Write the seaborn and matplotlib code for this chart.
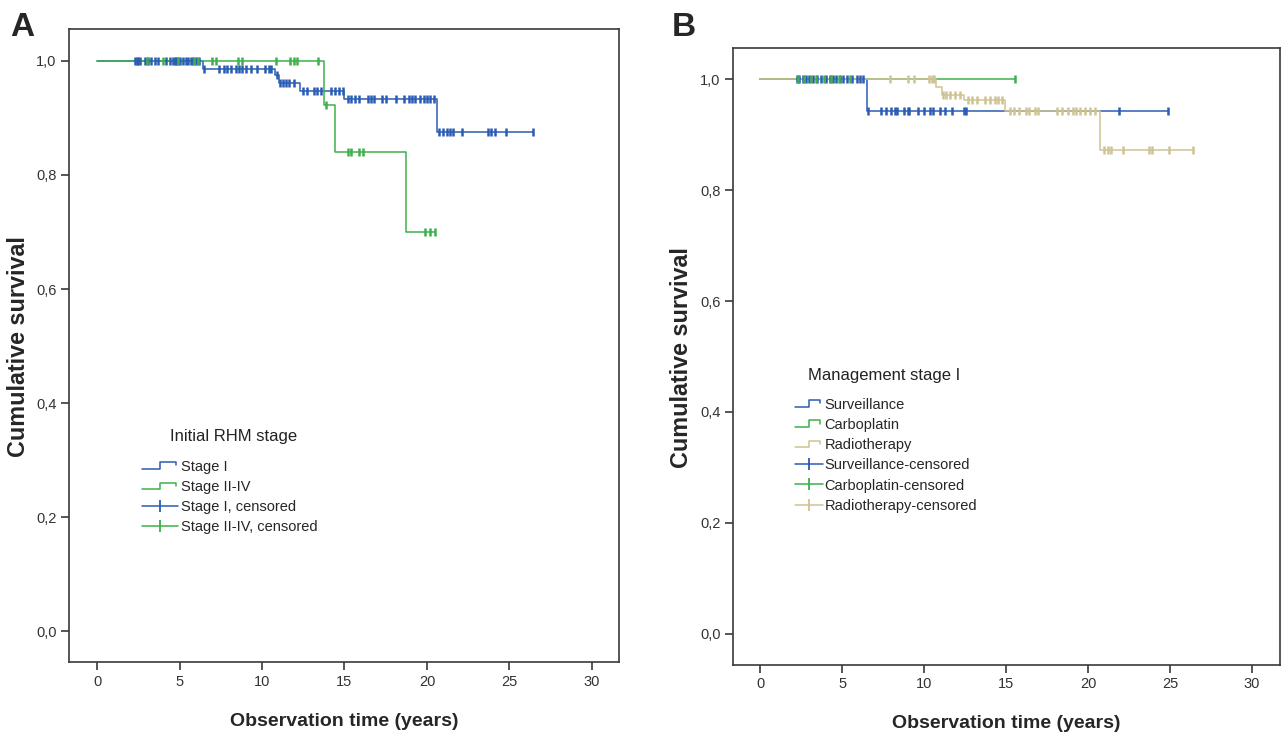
import numpy as np
import pandas as pd
import seaborn as sns
import matplotlib
matplotlib.use("Agg")
import matplotlib.pyplot as plt
from matplotlib.lines import Line2D
from matplotlib.legend_handler import HandlerBase

# Panel A: initial RHM stage
stage1_events = [6.4, 10.8, 11.0, 12.3, 15.0, 20.6]
stage1_surv = [0.986, 0.975, 0.961, 0.948, 0.933, 0.875]
stage1_censored = [2.3, 2.4, 2.5, 2.6, 2.9, 3.1, 3.3, 3.5, 3.7, 4.2, 4.4, 4.6, 4.7,
                   4.8, 4.9, 5.0, 5.2, 5.4, 5.5, 5.7, 5.8, 6.0, 6.2,
                   6.5, 7.4, 7.7, 7.9, 8.15, 8.4, 8.6, 8.8, 9.0, 9.35, 9.7, 10.2, 10.45, 10.55,
                   10.9, 11.1, 11.3, 11.45, 11.65, 11.95,
                   12.5, 12.7, 13.15, 13.35, 13.6, 14.2, 14.45, 14.65, 14.9,
                   15.2, 15.4, 15.65, 15.85, 16.4, 16.6, 16.8, 17.3, 17.5, 18.1, 18.6,
                   18.9, 19.1, 19.3, 19.6, 19.8, 20.0, 20.2, 20.4,
                   20.75, 21.0, 21.2, 21.4, 21.6, 22.1, 23.7, 23.9, 24.1, 24.8, 26.4]
stage24_events = [13.75, 14.4, 18.75]
stage24_surv = [0.923, 0.840, 0.700]
stage24_censored = [3.0, 4.0, 4.9, 5.9, 6.1, 6.95, 7.2, 8.55, 8.8, 10.85, 11.7, 11.95,
                    12.15, 13.4, 13.85, 15.2, 15.4, 15.85, 16.1, 19.9, 20.2, 20.5]

# Panel B: management of stage I
surv_events = [6.55]
surv_surv = [0.943]
surv_censored = [2.25, 2.4, 2.6, 2.8, 3.0, 3.2, 3.5, 3.7, 4.05, 4.25, 4.45, 4.65, 4.85,
                 5.05, 5.3, 5.6, 5.9, 6.1, 6.25,
                 6.6, 7.4, 7.7, 8.0, 8.2, 8.35, 8.8, 9.0, 9.1, 9.6, 10.0, 10.35, 10.55,
                 11.0, 11.3, 11.7, 12.45, 12.55, 21.9, 24.9]
carbo_events = []
carbo_surv = []
carbo_censored = [2.3, 2.7, 3.1, 3.4, 3.9, 4.3, 4.8, 5.5, 15.55]
radio_events = [10.75, 11.1, 12.45, 14.95, 20.75]
radio_surv = [0.985, 0.971, 0.962, 0.943, 0.873]
radio_censored = [7.9, 9.05, 9.4, 10.3, 10.5, 10.6,
                  11.15, 11.35, 11.55, 11.9, 12.2,
                  12.65, 12.95, 13.25, 13.7, 14.0, 14.3, 14.5, 14.75,
                  15.25, 15.5, 15.8, 16.2, 16.4, 16.75, 16.95, 18.1, 18.4, 18.75, 19.05,
                  19.25, 19.5, 19.8, 20.1, 20.4,
                  20.95, 21.2, 21.4, 22.1, 23.7, 23.9, 24.95, 26.4]

BLUE = "#2b5cb4"
GREEN = "#3db04a"
TAN = "#cfc293"
FRAME = "#3a3a3a"


def km_frame(events, surv, censored):
    # step curve from time 0 to the last observation
    end = max(censored + events)
    t = [0.0] + list(events) + [end]
    s = [1.0] + list(surv) + [surv[-1] if surv else 1.0]
    return pd.DataFrame({"time": t, "survival": s})


def censor_frame(events, surv, censored):
    levels = np.array([1.0] + list(surv))
    idx = np.searchsorted(np.array(events), np.array(censored), side="right")
    return pd.DataFrame({"time": censored, "survival": levels[idx]})


class StepHandler(HandlerBase):
    def create_artists(self, legend, orig_handle, xdescent, ydescent,
                       width, height, fontsize, trans):
        x0, y0 = -xdescent, -ydescent
        xs = [x0, x0 + 0.5 * width, x0 + 0.5 * width, x0 + 0.92 * width, x0 + 0.92 * width]
        ys = [y0 + 0.2 * height, y0 + 0.2 * height, y0 + 0.85 * height,
              y0 + 0.85 * height, y0 + 0.55 * height]
        line = Line2D(xs, ys, color=orig_handle.get_color(), lw=1.1)
        line.set_transform(trans)
        return [line]


sns.set_style("white")
plt.rcParams["font.family"] = ["Liberation Sans", "DejaVu Sans"]

fig = plt.figure(figsize=(12.82, 7.34), dpi=100)
W, H = 1282, 734


def add_axes(x0, y0, x1, y1):
    return fig.add_axes([x0 / W, 1 - y1 / H, (x1 - x0) / W, (y1 - y0) / H])


axA = add_axes(69, 29, 619, 662)
axB = add_axes(733, 48, 1280, 665)


def style_axes(ax, xlim, ylim):
    ax.set_xlim(*xlim)
    ax.set_ylim(*ylim)
    ax.set_xticks(np.arange(0, 31, 5))
    ax.set_yticks(np.arange(0, 1.01, 0.2))
    ax.set_yticklabels([f"{v:.1f}".replace(".", ",") for v in np.arange(0, 1.01, 0.2)])
    for sp in ax.spines.values():
        sp.set_color(FRAME)
        sp.set_linewidth(1.2)
    ax.tick_params(axis="both", direction="out", length=6, width=1.2, color=FRAME,
                   labelsize=10.5, labelcolor="#333333", pad=3,
                   bottom=True, left=True, top=False, right=False)
    ax.set_xlabel("Observation time (years)", fontsize=14, fontweight="bold")
    ax.set_ylabel("Cumulative survival", fontsize=16.8, fontweight="bold")


def draw_group(ax, events, surv, censored, color):
    sns.lineplot(data=km_frame(events, surv, censored), x="time", y="survival",
                 drawstyle="steps-post", estimator=None, sort=False,
                 color=color, lw=1.1, ax=ax)


def draw_censors(ax, events, surv, censored, color):
    sns.scatterplot(data=censor_frame(events, surv, censored), x="time", y="survival",
                    marker="|", s=40, color=color, linewidth=1.8, ax=ax, zorder=4)


# Panel A
draw_group(axA, stage1_events, stage1_surv, stage1_censored, BLUE)
draw_group(axA, stage24_events, stage24_surv, stage24_censored, GREEN)
draw_censors(axA, stage1_events, stage1_surv, stage1_censored, BLUE)
draw_censors(axA, stage24_events, stage24_surv, stage24_censored, GREEN)
style_axes(axA, (-1.7, 31.64), (-0.054, 1.056))

# Panel B
draw_group(axB, surv_events, surv_surv, surv_censored, BLUE)
draw_group(axB, carbo_events, carbo_surv, carbo_censored, GREEN)
draw_group(axB, radio_events, radio_surv, radio_censored, TAN)
draw_censors(axB, radio_events, radio_surv, radio_censored, TAN)
draw_censors(axB, surv_events, surv_surv, surv_censored, BLUE)
draw_censors(axB, carbo_events, carbo_surv, carbo_censored, GREEN)
style_axes(axB, (-1.65, 31.7), (-0.056, 1.056))

for ax, yl in ((axA, -0.101), (axB, -0.102)):
    ax.xaxis.set_label_coords(0.5, yl)
    ax.xaxis.label.set_verticalalignment("baseline")
axA.yaxis.set_label_coords(-0.08, 0.498)
axB.yaxis.set_label_coords(-0.082, 0.498)
axA.yaxis.label.set_verticalalignment("baseline")
axB.yaxis.label.set_verticalalignment("baseline")


def step_handle(color):
    return Line2D([], [], color=color, lw=1.1)


def cens_handle(color):
    return Line2D([], [], color=color, lw=1.1, marker="|", markersize=9, markeredgewidth=1.3)


# legends
hA = [step_handle(BLUE), step_handle(GREEN), cens_handle(BLUE), cens_handle(GREEN)]
lA = ["Stage I", "Stage II-IV", "Stage I, censored", "Stage II-IV, censored"]
legA = axA.legend(hA, lA, loc="upper left", bbox_to_anchor=(0.1327, 0.319),
                  frameon=False, fontsize=10.5, handlelength=2.5, handletextpad=0.15,
                  labelspacing=0.42, borderpad=0, borderaxespad=0,
                  handler_map={hA[0]: StepHandler(), hA[1]: StepHandler()})
axA.text(0.1836, 0.3555, "Initial RHM stage", transform=axA.transAxes,
         fontsize=12, ha="left", va="center", color="#222222")

hB = [step_handle(BLUE), step_handle(GREEN), step_handle(TAN),
      cens_handle(BLUE), cens_handle(GREEN), cens_handle(TAN)]
lB = ["Surveillance", "Carboplatin", "Radiotherapy", "Surveillance-censored",
      "Carboplatin-censored", "Radiotherapy-censored"]
legB = axB.legend(hB, lB, loc="upper left", bbox_to_anchor=(0.113, 0.4327),
                  frameon=False, fontsize=10.5, handlelength=1.9, handletextpad=0.15,
                  labelspacing=0.42, borderpad=0, borderaxespad=0,
                  handler_map={hB[0]: StepHandler(), hB[1]: StepHandler(), hB[2]: StepHandler()})
axB.text(0.137, 0.470, "Management stage I", transform=axB.transAxes,
         fontsize=12, ha="left", va="center", color="#222222")

fig.text(10 / W, 1 - 36 / H, "A", fontsize=24, fontweight="bold", va="baseline", ha="left")
fig.text(672 / W, 1 - 36 / H, "B", fontsize=24, fontweight="bold", va="baseline", ha="left")

fig.savefig("out.png", dpi=100)
